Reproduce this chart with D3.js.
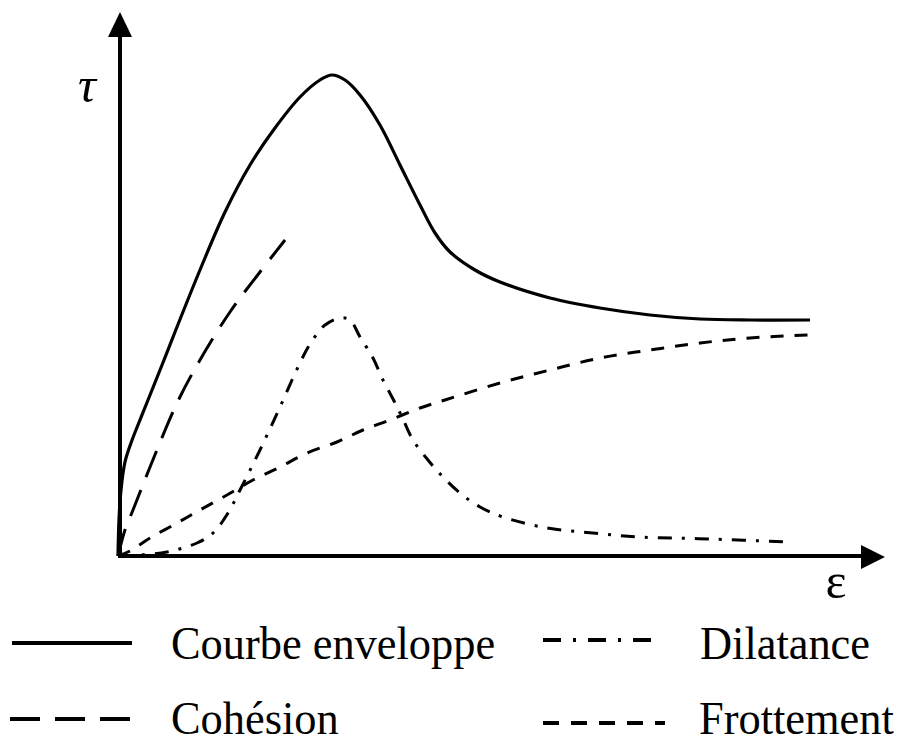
<!DOCTYPE html>
<html>
<head>
<meta charset="utf-8">
<script src="https://cdn.jsdelivr.net/npm/d3@7"></script>
<style>
  html, body { margin: 0; padding: 0; background: #fff; }
  svg { display: block; }
</style>
</head>
<body>
<div id="chart"></div>
<script>
// ---- data (arbitrary units: x = strain ε, y = shear stress τ) ----
const envelopeX = [0, 0.13, 0.4, 0.93, 1.73, 2.93, 4.27, 5.87, 7.6, 10.93, 14.27, 17.6, 20.93, 24.27, 26.93, 28.53, 30.27, 32.27, 34.93, 37.6, 40.27, 42.27, 44.27, 47.6, 50.93, 57.6, 64.27, 70.93, 77.6, 84.27, 92.27];
const envelopeY = [0, 7.2, 13.2, 18.8, 22.6, 27.2, 32.2, 38.2, 44.8, 57.2, 68.8, 78.2, 85.6, 91.8, 95.2, 96.2, 95.2, 92.2, 86.2, 78.2, 70.2, 64.6, 60.8, 57.2, 54.8, 51.6, 49.6, 48.2, 47.4, 47.2, 47.2];

const cohesionX = [0, 0.93, 2, 4.27, 7.87, 10.93, 14.93, 18.93, 22.27];
const cohesionY = [0, 5.2, 9.2, 17.8, 30.6, 39.2, 48.8, 56.8, 63.2];

const dilatanceX = [0, 2.93, 6.53, 10.53, 12.67, 14.67, 16.27, 18.93, 21.6, 24.13, 25.6, 27.6, 29.6, 30.93, 32.27, 34, 35.2, 36.67, 37.87, 39.33, 41.33, 43.33, 45.6, 48.27, 51.33, 57.2, 63.33, 69.6, 78.93, 89.6];
const dilatanceY = [0, 0.2, 0.8, 2.6, 4.6, 8.6, 13.2, 21.2, 29.8, 38.2, 42.4, 46.2, 47.6, 47.2, 43.8, 39.6, 35.6, 31.4, 27.8, 23.2, 19.2, 15.8, 12.6, 9.8, 7.8, 5.6, 4.6, 3.8, 3.4, 2.8];

const frottementX = [0, 1.6, 4.27, 7.87, 10.93, 14.53, 18, 21.6, 25.2, 29.2, 32.67, 36.27, 40.27, 43.6, 50.93, 57.6, 64.27, 70.93, 77.6, 84.27, 92];
const frottementY = [0, 1, 3.6, 6.6, 9.2, 12.2, 15.2, 17.8, 20.6, 22.8, 25.2, 27.2, 29.6, 31.2, 34.6, 37.2, 39.6, 41.2, 42.6, 43.6, 44.2];

const seriesNames = ["Courbe enveloppe", "Dilatance", "Cohésion", "Frottement"];
const axisLabels = ["τ", "ε"];

// ---- layout ----
const W = 906, H = 744;
const x0 = 118, y0 = 556;
const x = d3.scaleLinear().domain([0, 100]).range([x0, 868]);
const y = d3.scaleLinear().domain([0, 100]).range([y0, 56]);

const svg = d3.select("#chart").append("svg")
  .attr("width", W).attr("height", H)
  .style("background", "#fff");

const FONT = "'Liberation Serif', 'Times New Roman', serif";

const styles = {
  "Courbe enveloppe": { width: 3.2, dash: null },
  "Cohésion": { width: 3, dash: "28,14" },
  "Dilatance": { width: 3, dash: "14,10,3,10" },
  "Frottement": { width: 3, dash: "13,11" }
};

const zip = (xs, ys) => xs.map((v, i) => [v, ys[i]]);
const line = d3.line().x(d => x(d[0])).y(d => y(d[1])).curve(d3.curveCatmullRom.alpha(0.5));

const series = [
  { name: "Courbe enveloppe", pts: zip(envelopeX, envelopeY) },
  { name: "Cohésion", pts: zip(cohesionX, cohesionY) },
  { name: "Dilatance", pts: zip(dilatanceX, dilatanceY) },
  { name: "Frottement", pts: zip(frottementX, frottementY) }
];

svg.append("g").selectAll("path").data(series).join("path")
  .attr("d", d => line(d.pts))
  .attr("fill", "none")
  .attr("stroke", "#000")
  .attr("stroke-width", d => styles[d.name].width)
  .attr("stroke-dasharray", d => styles[d.name].dash)
  .attr("stroke-linecap", "butt")
  .attr("stroke-linejoin", "round");

// ---- axes with arrows ----
const axes = svg.append("g");
axes.append("line").attr("x1", x0).attr("y1", y0).attr("x2", 866).attr("y2", y0)
  .attr("stroke", "#000").attr("stroke-width", 4);
axes.append("line").attr("x1", x0 + 2).attr("y1", y0 + 2).attr("x2", x0 + 2).attr("y2", 34)
  .attr("stroke", "#000").attr("stroke-width", 4);
axes.append("path").attr("d", "M885,557 L861,545 L861,569 Z").attr("fill", "#000");
axes.append("path").attr("d", "M120,12 L108,37 L132,37 Z").attr("fill", "#000");

svg.append("text").attr("x", 87).attr("y", 102)
  .attr("text-anchor", "middle")
  .attr("font-family", FONT).attr("font-style", "italic")
  .attr("font-size", 50).text(axisLabels[0]);
svg.append("text").attr("x", 836).attr("y", 598)
  .attr("text-anchor", "middle")
  .attr("font-family", FONT)
  .attr("font-size", 50).text(axisLabels[1]);

// ---- legend ----
const legendPos = {
  "Courbe enveloppe": { lx1: 12, lx2: 132, ly: 643, tx: 171, ty: 659 },
  "Dilatance": { lx1: 543, lx2: 656, ly: 640, tx: 700, ty: 659 },
  "Cohésion": { lx1: 10, lx2: 130, ly: 719, tx: 171, ty: 734 },
  "Frottement": { lx1: 543, lx2: 665, ly: 723, tx: 699, ty: 734 }
};
const lg = svg.append("g").selectAll("g").data(seriesNames).join("g");
lg.append("line")
  .attr("x1", d => legendPos[d].lx1).attr("x2", d => legendPos[d].lx2)
  .attr("y1", d => legendPos[d].ly).attr("y2", d => legendPos[d].ly)
  .attr("stroke", "#000")
  .attr("stroke-width", 4)
  .attr("stroke-dasharray", d => {
    if (d === "Cohésion") return "30,15";
    if (d === "Dilatance") return "18,12,3,12";
    if (d === "Frottement") return "16,12";
    return null;
  });
lg.append("text")
  .attr("transform", d => `translate(${legendPos[d].tx},${legendPos[d].ty}) scale(0.965,1)`)
  .attr("font-family", FONT)
  .attr("font-size", 46)
  .text(d => d);
</script>
</body>
</html>
